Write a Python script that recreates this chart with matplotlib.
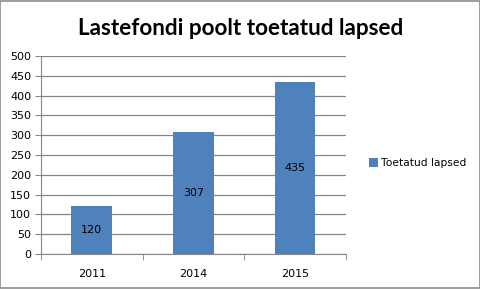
import numpy as np
import matplotlib.pyplot as plt
from matplotlib.patches import Rectangle

# --- Data ---
years = ['2011', '2014', '2015']
children = [120, 307, 435]
yticks = np.arange(0, 501, 50)
series_name = 'Toetatud lapsed'
title = 'Lastefondi poolt toetatud lapsed'

bar_color = '#4F81BD'
grid_color = '#868686'

fig = plt.figure(figsize=(4.81, 2.89), dpi=100)
fig.patches.append(Rectangle((0.001, 0.002), 0.997, 0.995, transform=fig.transFigure,
                             fill=False, edgecolor='#8c8c8c', lw=1.2))
ax = fig.add_axes([0.0852, 0.1211, 0.6341, 0.6851])

x = np.arange(len(years))
bars = ax.bar(x, children, width=0.4, color=bar_color, label=series_name, zorder=3)
for b, v in zip(bars, children):
    ax.text(b.get_x() + b.get_width() / 2, v / 2, str(v), ha='center', va='center',
            fontsize=8, color='black', zorder=4)

ax.set_xlim(-0.5, len(years) - 0.5)
ax.set_ylim(0, 500)
ax.set_yticks(yticks)
ax.yaxis.grid(True, color=grid_color, lw=0.9, zorder=0)
ax.set_xticks(x)
ax.set_xticklabels(years)
ax.set_xticks(np.arange(-0.5, len(years)), minor=True)
ax.tick_params(axis='x', which='major', length=0, pad=11, labelsize=8)
ax.tick_params(axis='x', which='minor', length=4, color=grid_color, direction='out')
ax.tick_params(axis='y', length=4, color=grid_color, labelsize=8, pad=3)

for side in ['top', 'right']:
    ax.spines[side].set_visible(False)
ax.spines['left'].set_color(grid_color)
ax.spines['bottom'].set_color(grid_color)

fig.text(0.5, 0.903, title, ha='center', va='center', fontsize=16.2,
         fontweight='bold', family='Lato')

fig.legend(handles=[bars], labels=[series_name], loc='center left',
           bbox_to_anchor=(0.748, 0.435), frameon=False, fontsize=7.7,
           handlelength=0.8, handleheight=0.8, handletextpad=0.3)

fig.savefig('out.png', dpi=100)
